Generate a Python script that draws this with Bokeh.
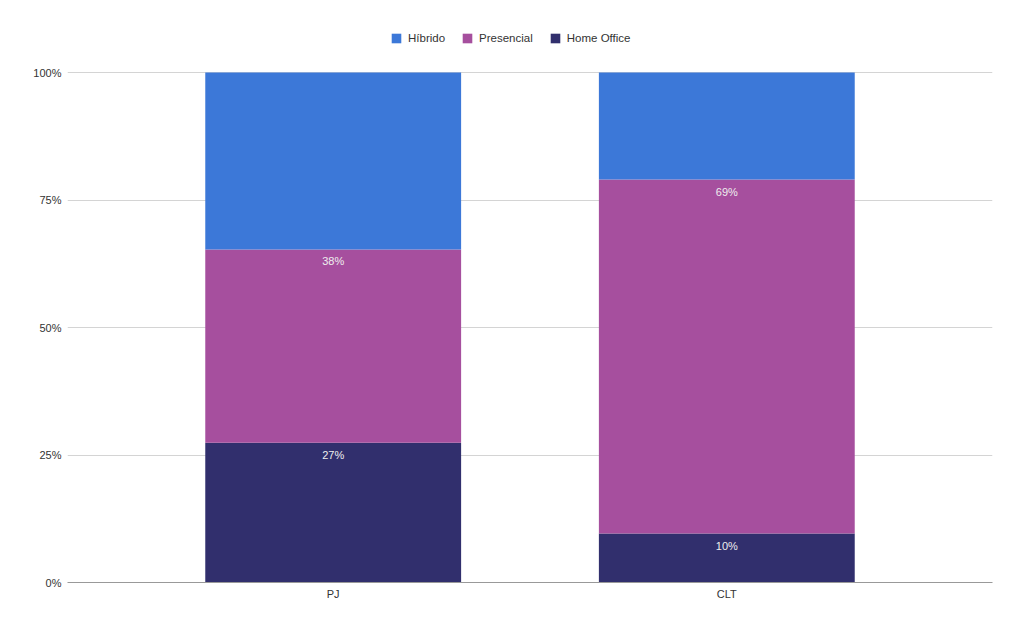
from bokeh.plotting import figure
from bokeh.models import FactorRange, Range1d, NumeralTickFormatter, FixedTicker, Legend, LegendItem, ColumnDataSource
from bokeh.core.properties import value
from bokeh.embed import file_html
from bokeh.resources import INLINE

categories = ["PJ", "CLT"]
series = ["Home Office", "Presencial", "Híbrido"]
home_office = [0.274, 0.096]
presencial = [0.379, 0.694]
hibrido = [0.347, 0.210]
colors = ["#312f6d", "#a64f9e", "#3c78d8"]
y_ticks = [0, 0.25, 0.5, 0.75, 1.0]

FONT = "Liberation Sans"

# frame spans the full height; the top strip above 100% holds the legend
FRAME_H = 582
PLOT_H = 510
y_end = FRAME_H / PLOT_H

src = ColumnDataSource(dict(x=categories, **{"Home Office": home_office, "Presencial": presencial, "Híbrido": hibrido}))

p = figure(x_range=FactorRange(factors=categories, range_padding=0.175, range_padding_units="absolute"),
           y_range=Range1d(0, y_end),
           width=1016, height=625, output_backend="svg", toolbar_location=None,
           min_border_left=67, min_border_right=24, min_border_top=0, min_border_bottom=43)

renderers = p.vbar_stack(series, x="x", width=0.65, color=colors, source=src, line_color=None)

# data labels (top of Home Office and Presencial segments)
lx, ly, lt = [], [], []
for i, c in enumerate(categories):
    top_ho = home_office[i]
    top_pr = home_office[i] + presencial[i]
    lx += [c, c]
    ly += [top_ho, top_pr]
    lt += ["%d%%" % round(home_office[i] * 100), "%d%%" % round(presencial[i] * 100)]
p.text(x=lx, y=ly, text=lt, text_align="center", text_baseline="top", y_offset=6,
       text_font=value(FONT), text_font_size="11px", text_color="#eeeeee")

legend = Legend(items=[LegendItem(label="Híbrido", renderers=[renderers[2]]),
                       LegendItem(label="Presencial", renderers=[renderers[1]]),
                       LegendItem(label="Home Office", renderers=[renderers[0]])],
                orientation="horizontal", location=(323, 538),
                glyph_width=12, glyph_height=12, label_standoff=6, spacing=16,
                padding=0, margin=0, border_line_color=None, background_fill_alpha=0,
                label_text_font=FONT, label_text_font_size="11.5px", label_text_color="#333333",
                label_height=12)
p.add_layout(legend, "center")

p.yaxis.ticker = FixedTicker(ticks=y_ticks)
p.yaxis.formatter = NumeralTickFormatter(format="0%")
p.yaxis.axis_line_color = None
p.yaxis.major_tick_line_color = None
p.yaxis.minor_tick_line_color = None
p.yaxis.major_tick_out = 0
p.yaxis.major_label_standoff = 6
p.xaxis.axis_line_color = "#999999"
p.xaxis.major_tick_line_color = None
p.xaxis.major_tick_out = 0
p.xaxis.major_label_standoff = 5
for ax in (p.xaxis, p.yaxis):
    ax.major_label_text_font = FONT
    ax.major_label_text_font_size = "11px"
    ax.major_label_text_color = "#333333"

p.xgrid.grid_line_color = None
p.ygrid.grid_line_color = "#d4d4d4"
p.outline_line_color = None

open("out.html", "w").write(file_html(p, INLINE))
